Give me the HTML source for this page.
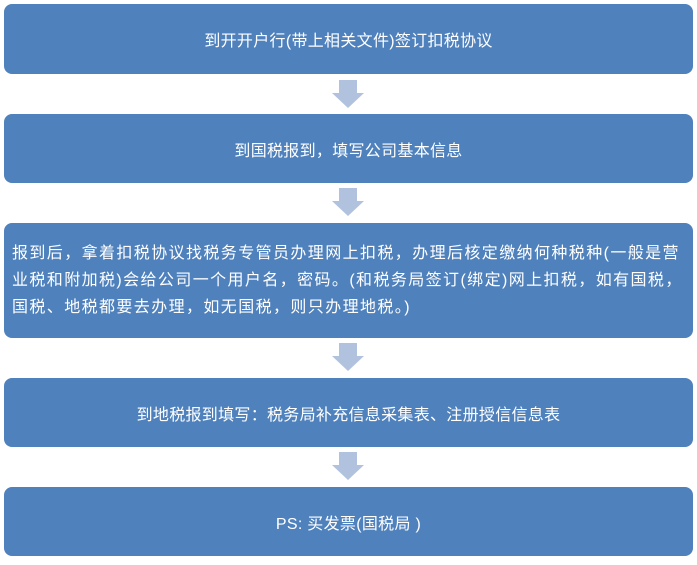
<!DOCTYPE html>
<html><head><meta charset="utf-8"><style>
body{margin:0;width:697px;height:565px;background:#fff;position:relative;font-family:"Liberation Sans","Noto Sans CJK SC",sans-serif;overflow:hidden}
.b{position:absolute;left:4px;width:689px;background:#4f81bd;border-radius:8px;color:#fff;font-size:16px;letter-spacing:0.3px;display:flex;align-items:center;justify-content:center;text-align:center;box-sizing:border-box}
.a{position:absolute;left:332px;width:32px;height:28px}
</style></head><body>
<div class="b" style="top:4px;height:70px">到开开户行(带上相关文件)签订扣税协议</div>
<svg class="a" style="top:80px" viewBox="0 0 32 28"><polygon points="7,0 25,0 25,13 32,13 16,28 0,13 7,13" fill="#b0c2de"/></svg>
<div class="b" style="top:114px;height:69px">到国税报到，填写公司基本信息</div>
<svg class="a" style="top:188px" viewBox="0 0 32 28"><polygon points="7,0 25,0 25,13 32,13 16,28 0,13 7,13" fill="#b0c2de"/></svg>
<div class="b" style="top:223px;height:115px;text-align:left;justify-content:flex-start;padding:0 8px;line-height:27px;white-space:nowrap;letter-spacing:1.4px"><div>报到后，拿着扣税协议找税务专管员办理网上扣税，办理后核定缴纳何种税种(一般是营<br>业税和附加税)会给公司一个用户名，密码。(和税务局签订(绑定)网上扣税，如有国税，<br>国税、地税都要去办理，如无国税，则只办理地税。)</div></div>
<svg class="a" style="top:343px" viewBox="0 0 32 28"><polygon points="7,0 25,0 25,13 32,13 16,28 0,13 7,13" fill="#b0c2de"/></svg>
<div class="b" style="top:378px;height:69px">到地税报到填写：税务局补充信息采集表、注册授信信息表</div>
<svg class="a" style="top:452px" viewBox="0 0 32 28"><polygon points="7,0 25,0 25,13 32,13 16,28 0,13 7,13" fill="#b0c2de"/></svg>
<div class="b" style="top:487px;height:69px">PS: 买发票(国税局 )</div>
</body></html>
